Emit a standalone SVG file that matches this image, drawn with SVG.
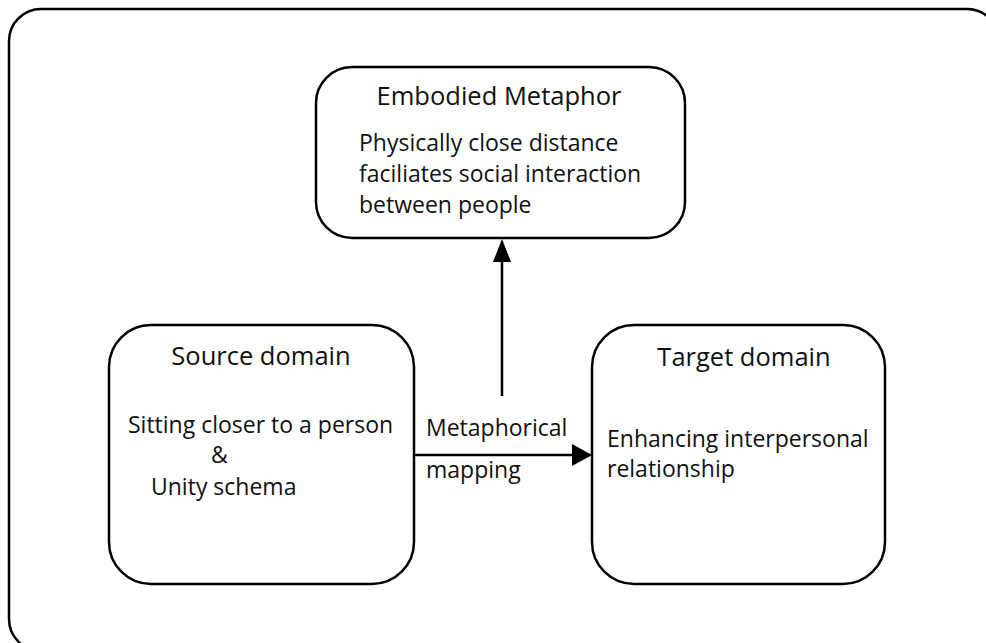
<svg xmlns="http://www.w3.org/2000/svg" width="986" height="643" viewBox="0 0 986 643">
  <defs>
    <style>
      .box { fill: #fff; stroke: #000; stroke-width: 2.5; }
      .t { font-family: "Open Sans", "Liberation Sans", sans-serif; fill: #111; }
      .title { font-size: 25.5px; }
      .body { font-size: 23px; }
      .link { stroke: #000; stroke-width: 2.5; fill: none; }
    </style>
  </defs>
  <rect width="986" height="643" fill="#fff"/>

  <!-- outer frame -->
  <rect x="9" y="9" width="990" height="642" rx="32" ry="32" class="box"/>

  <g id="embodied-metaphor">
    <rect x="316" y="67" width="369" height="171" rx="36" ry="36" class="box"/>
    <text x="499" y="105" text-anchor="middle" class="t title">Embodied Metaphor</text>
    <text x="359" y="151" class="t body">Physically close distance</text>
    <text x="359" y="182" class="t body">faciliates social interaction</text>
    <text x="359" y="213" class="t body">between people</text>
  </g>

  <g id="source-domain">
    <rect x="109" y="325" width="305" height="259" rx="42" ry="42" class="box"/>
    <text x="261" y="365" text-anchor="middle" class="t title">Source domain</text>
    <text x="128" y="433" class="t body">Sitting closer to a person</text>
    <text x="211" y="463" class="t body">&amp;</text>
    <text x="151" y="495" class="t body">Unity schema</text>
  </g>

  <g id="target-domain">
    <rect x="592" y="325" width="293" height="259" rx="42" ry="42" class="box"/>
    <text x="744" y="366" text-anchor="middle" class="t title">Target domain</text>
    <text x="607" y="447" class="t body">Enhancing interpersonal</text>
    <text x="607" y="477" class="t body">relationship</text>
  </g>

  <g id="connectors">
    <line x1="414" y1="455" x2="580" y2="455" class="link"/>
    <path d="M572,444 L592,455 L572,466 Z" fill="#000"/>
    <line x1="502" y1="396" x2="502" y2="255" class="link"/>
    <path d="M493,262 L502,239 L511,262 Z" fill="#000"/>
    <text x="426" y="436" class="t body">Metaphorical</text>
    <text x="426" y="478" class="t body">mapping</text>
  </g>
</svg>
